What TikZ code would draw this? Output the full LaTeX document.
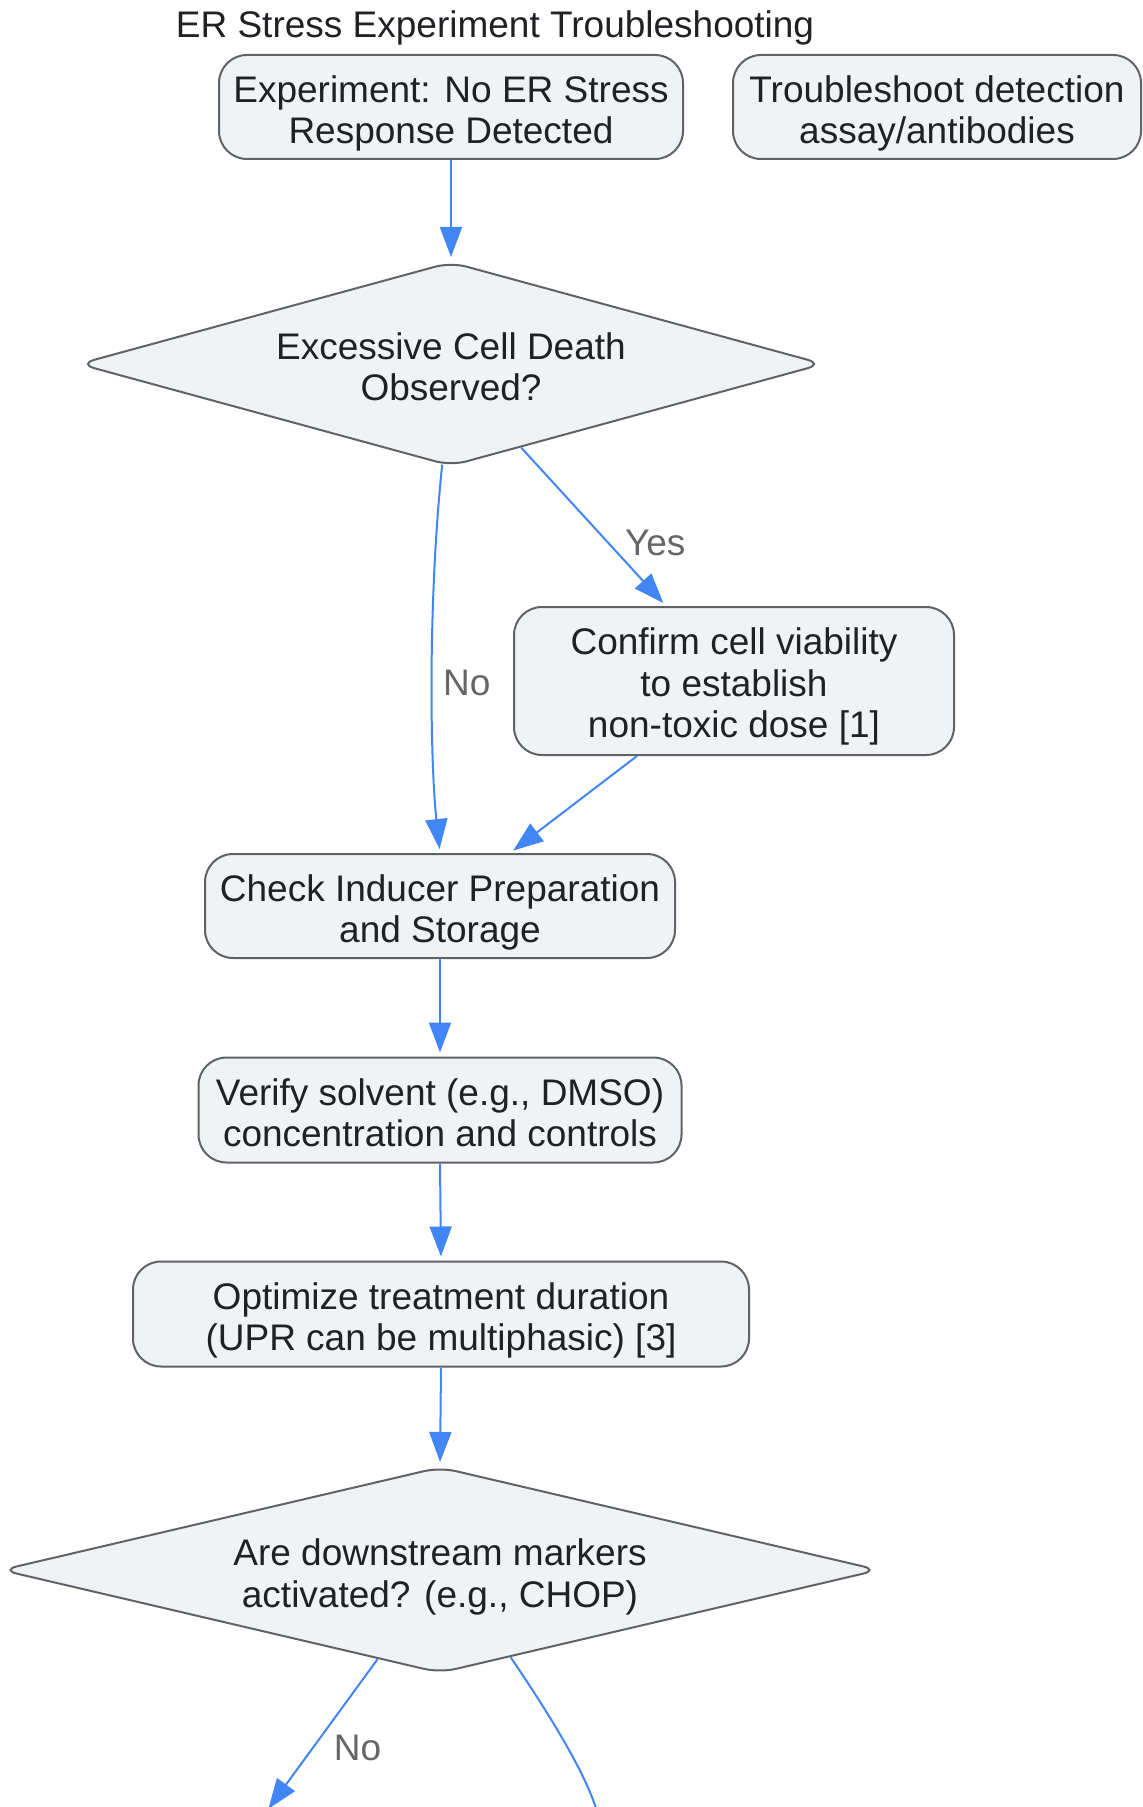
\documentclass[tikz,border=0pt]{standalone}
\usepackage{fontspec}
\setmainfont{Liberation Sans}
\usetikzlibrary{shapes.geometric,arrows.meta}
\definecolor{boxfill}{HTML}{F1F2F4}
\definecolor{boxline}{HTML}{5F6368}
\definecolor{flow}{HTML}{4285F4}
\definecolor{ink}{HTML}{202124}
\definecolor{lbl}{HTML}{666666}
\begin{document}
\begin{tikzpicture}[x=0.5pt,y=-0.5pt,
  txt/.style={font=\fontsize{18.5}{20.75}\selectfont},
  box/.style={txt,draw=boxline,fill=boxfill,line width=1pt,rounded corners=14pt,
    align=center,text=ink,inner sep=0pt,text height=36.6pt,text depth=0pt},
  query/.style={txt,diamond,aspect=3.6,draw=boxline,fill=boxfill,line width=1pt,
    rounded corners=8pt,align=center,text=ink,inner sep=0pt,text height=37pt,
    text depth=0pt},
  flowline/.style={draw=flow,line width=1pt,shorten >=2pt,
    -{Triangle[length=15pt,width=11pt]}},
  edgelabel/.style={txt,text=lbl,inner sep=0pt}]
\clip (0,0) rectangle (1142,1807);
\node[txt,text=ink] (title) at (495,28) {ER Stress Experiment Troubleshooting};
\node[box,minimum width=232pt,minimum height=52pt] (start) at (451,107)
  {Experiment: No ER Stress\\Response Detected};
\node[box,minimum width=204pt,minimum height=52pt] (assay) at (937,107)
  {Troubleshoot detection\\assay/antibodies};
\node[query,minimum width=372.5pt,minimum height=102pt] (death) at (451,364)
  {Excessive Cell Death\\Observed?};
\node[box,minimum width=220pt,minimum height=74pt,text height=56.8pt] (viab) at (734,681)
  {Confirm cell viability\\to establish\\non-toxic dose [1]};
\node[box,minimum width=235pt,minimum height=52pt] (prep) at (440,906)
  {Check Inducer Preparation\\and Storage};
\node[box,minimum width=241.5pt,minimum height=52.5pt] (solv) at (440,1110)
  {Verify solvent (e.g., DMSO)\\concentration and controls};
\node[box,minimum width=308pt,minimum height=52.5pt] (dur) at (441,1314)
  {Optimize treatment duration\\(UPR can be multiphasic) [3]};
\node[query,minimum width=439pt,minimum height=103pt] (mark) at (440,1570)
  {Are downstream markers\\activated? (e.g., CHOP)};
\coordinate (markno) at (266,1812);
\coordinate (markyes) at (606,1850);
\draw[flowline] (start.south) -- (death.north);
\draw[flowline] (death.-95) .. controls (428,600) and (430,760) .. (prep.north)
  node[edgelabel,pos=0.52,right=5pt] {No};
\draw[flowline] (death.-50) -- ([xshift=-34pt]viab.north)
  node[edgelabel,pos=0.6,right=8pt] {Yes};
\draw[flowline] ([xshift=-48.5pt]viab.south) -- ([xshift=35pt]prep.north);
\draw[flowline] (prep.south) -- (solv.north);
\draw[flowline] (solv.south) -- (dur.north);
\draw[flowline] (dur.south) -- (mark.north);
\draw[flowline] (mark.-125) -- (markno)
  node[edgelabel,pos=0.58,right=10pt] {No};
\draw[flowline] (mark.-51) .. controls (550,1715) and (590,1780) .. (markyes);
\end{tikzpicture}
\end{document}
